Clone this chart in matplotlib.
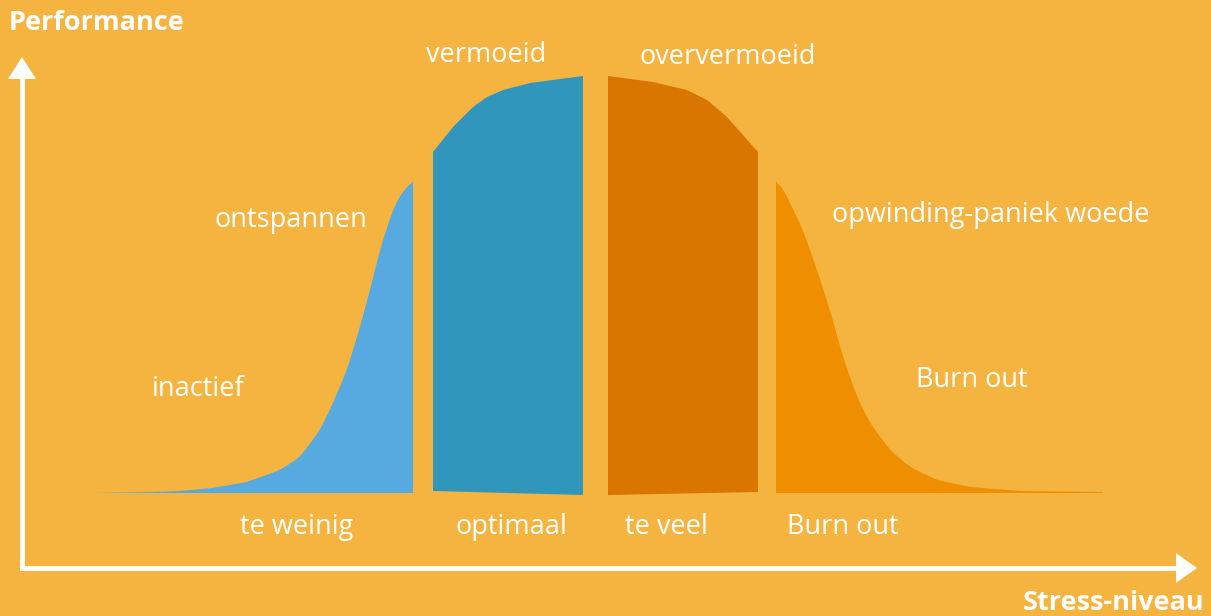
import numpy as np
import matplotlib.pyplot as plt
from matplotlib.patches import Polygon

# --- Data (pixel-like coordinates, y measured downward from top) ---
# stress-axis positions and curve tops for each of the four zones
zone1_x = [95, 150, 180, 213, 247, 280, 300, 320, 333, 347, 360, 370, 380, 387, 397, 406, 413]
zone1_top = [493, 492, 491, 488, 482, 470, 457, 430, 403, 370, 327, 290, 250, 227, 200, 188, 181]
zone1_bottom = [493, 493]

zone2_x = [433, 453, 473, 487, 503, 530, 583]
zone2_top = [152, 127, 107, 97, 90, 83, 76]
zone2_bottom = [491, 495]

zone3_x = [608, 653, 687, 707, 727, 758]
zone3_top = [76, 82, 90, 100, 117, 152]
zone3_bottom = [495, 492]

zone4_x = [776, 784, 790, 803, 817, 830, 843, 857, 870, 890, 910, 937, 970, 1020, 1103]
zone4_top = [181, 190, 203, 230, 270, 310, 357, 397, 423, 450, 467, 480, 487, 491, 492]
zone4_bottom = [493, 493]

zone_colors = ['#56AADF', '#3096BC', '#D97600', '#EF8F00']

top_labels = ['vermoeid', 'oververmoeid', 'ontspannen', 'opwinding-paniek woede',
              'inactief', 'Burn out']
top_label_pos = [(486, 55), (728, 57), (291, 220), (991, 215), (198, 389), (972, 380)]

bottom_labels = ['te weinig', 'optimaal', 'te veel', 'Burn out']
bottom_label_x = [297, 511, 666, 843]

BG = '#F5B43F'

fig = plt.figure(figsize=(12.11, 6.16), dpi=100, facecolor=BG)
ax = fig.add_axes([0, 0, 1, 1])
ax.set_facecolor(BG)
ax.set_xlim(0, 1211)
ax.set_ylim(616, 0)
ax.axis('off')

zones = [(zone1_x, zone1_top, zone1_bottom),
         (zone2_x, zone2_top, zone2_bottom),
         (zone3_x, zone3_top, zone3_bottom),
         (zone4_x, zone4_top, zone4_bottom)]

for (xs, tops, bottoms), col in zip(zones, zone_colors):
    # smooth the top edge a little between the read points
    fine_x = np.linspace(xs[0], xs[-1], 200)
    fine_top = np.interp(fine_x, xs, tops)
    kernel = np.ones(7) / 7
    padded = np.pad(fine_top, 3, mode='edge')
    fine_top = np.convolve(padded, kernel, mode='valid')
    fine_top[0], fine_top[-1] = tops[0], tops[-1]
    pts = list(zip(fine_x, fine_top))
    pts.append((xs[-1], bottoms[1]))
    pts.append((xs[0], bottoms[0]))
    ax.add_patch(Polygon(pts, closed=True, facecolor=col, edgecolor='none'))

# axes arrows
ax.plot([22, 22], [570, 75], color='white', lw=3.5, solid_capstyle='butt')
ax.add_patch(Polygon([(22, 57), (8, 79), (36, 79)], closed=True, facecolor='white', edgecolor='none'))
ax.plot([20, 1180], [568, 568], color='white', lw=3.5, solid_capstyle='butt')
ax.add_patch(Polygon([(1197, 568), (1176, 553), (1176, 583)], closed=True, facecolor='white', edgecolor='none'))

font = 'Open Sans'
ax.text(9, 23, 'Performance', color='white', fontsize=19.5, fontweight='bold',
        family=font, ha='left', va='center')
ax.text(1204, 603, 'Stress-niveau', color='white', fontsize=19.5, fontweight='bold',
        family=font, ha='right', va='center')

for lab, (x, y) in zip(top_labels, top_label_pos):
    ax.text(x, y, lab, color='white', fontsize=19.5, family=font, ha='center', va='center')

for lab, x in zip(bottom_labels, bottom_label_x):
    ax.text(x, 527, lab, color='white', fontsize=19.5, family=font, ha='center', va='center')

fig.savefig('out.png', dpi=100, facecolor=BG)
